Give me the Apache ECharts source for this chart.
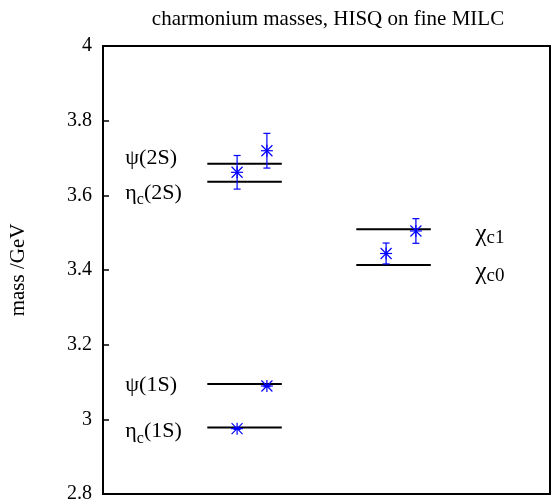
<!DOCTYPE html>
<html><head><meta charset="utf-8">
<script src="https://cdn.jsdelivr.net/npm/echarts@6/dist/echarts.min.js"></script>
<style>html,body{margin:0;padding:0;background:#fff}#c{width:552px;height:504px}</style>
</head><body><div id="c"></div>
<script>
// experimental levels
const states = ['eta_c(1S)', 'psi(1S)', 'eta_c(2S)', 'psi(2S)', 'chi_c0', 'chi_c1'];
const expMass = [2.978, 3.0946, 3.6365, 3.6847, 3.4134, 3.509];
const levelStart = [0.7, 0.7, 0.7, 0.7, 1.7, 1.7];
const levelEnd = [1.2, 1.2, 1.2, 1.2, 2.2, 2.2];
// lattice results
const latX = [0.9, 1.1, 0.9, 1.1, 1.9, 2.1];
const latMass = [2.9751, 3.0893, 3.6617, 3.7195, 3.4442, 3.5045];
const latErr = [0.002, 0.002, 0.045, 0.0465, 0.028, 0.033];
// state labels
const labelText = ['{g|η}{s|c}{g|(1S)}', '{g|ψ(1S)}', '{g|η}{s|c}{g|(2S)}', '{g|ψ(2S)}', '{x|χ}{k|c0}', '{x|χ}{k|c1}'];
const labelX = [0.15, 0.15, 0.15, 0.15, 2.5, 2.5];
const labelY = [2.967, 3.092, 3.606, 3.70, 3.393, 3.494];
const yTickLabels = ['2.8', '3', '3.2', '3.4', '3.6', '3.8', '4'];
const titleText = 'charmonium masses, HISQ on fine MILC';
const yName = 'mass /GeV';

const FONT = '"Liberation Serif", "DejaVu Serif", serif';
const chart = echarts.init(document.getElementById('c'), null, {renderer: 'canvas'});

const levelData = expMass.map((m, i) => [levelStart[i], levelEnd[i], m]);
const latData = latMass.map((m, i) => [latX[i], m, latErr[i]]);
const labelData = labelText.map((t, i) => [labelX[i], labelY[i], i]);

chart.setOption({
  animation: false,
  backgroundColor: '#fff',
  grid: {left: 103, right: 2, top: 46, bottom: 10, show: true, borderColor: '#000', borderWidth: 2, containLabel: false},
  graphic: [{
    type: 'text', x: 328, y: 19,
    style: {text: titleText, font: '21px ' + FONT, fill: '#000', align: 'center', verticalAlign: 'middle'}
  }],
  xAxis: {type: 'value', min: 0, max: 3, show: false},
  yAxis: {
    type: 'value', min: 2.8, max: 4, interval: 0.2,
    name: yName, nameLocation: 'middle', nameRotate: 90, nameGap: 74,
    nameTextStyle: {fontFamily: FONT, fontSize: 21, color: '#000'},
    axisLine: {show: false},
    splitLine: {show: false},
    axisTick: {show: true, inside: true, length: 6, lineStyle: {color: '#000', width: 1.5}},
    axisLabel: {
      margin: 11, fontFamily: FONT, fontSize: 20, color: '#000',
      formatter: function (v) { return yTickLabels[Math.round((v - 2.8) / 0.2)]; }
    }
  },
  series: [
    {
      type: 'custom', data: levelData, clip: false,
      renderItem: function (params, api) {
        const a = api.coord([api.value(0), api.value(2)]);
        const b = api.coord([api.value(1), api.value(2)]);
        return {type: 'line', shape: {x1: a[0], y1: a[1], x2: b[0], y2: b[1]}, style: {stroke: '#000', lineWidth: 2}};
      }
    },
    {
      type: 'custom', data: latData, clip: false,
      renderItem: function (params, api) {
        const x = api.value(0), y = api.value(1), e = api.value(2);
        const c = api.coord([x, y]);
        const t = api.coord([x, y + e]);
        const b = api.coord([x, y - e]);
        const st = {stroke: '#0000ff', lineWidth: 1.2};
        const cap = 3.5, r = 6, d = 5.5;
        const L = (x1, y1, x2, y2) => ({type: 'line', shape: {x1, y1, x2, y2}, style: st});
        return {type: 'group', children: [
          L(c[0], t[1], c[0], b[1]),
          L(c[0] - cap, t[1], c[0] + cap, t[1]),
          L(c[0] - cap, b[1], c[0] + cap, b[1]),
          L(c[0] - r, c[1], c[0] + r, c[1]),
          L(c[0], c[1] - r, c[0], c[1] + r),
          L(c[0] - d, c[1] - d, c[0] + d, c[1] + d),
          L(c[0] - d, c[1] + d, c[0] + d, c[1] - d)
        ]};
      }
    },
    {
      type: 'custom', data: labelData, clip: false,
      renderItem: function (params, api) {
        const p = api.coord([api.value(0), api.value(1)]);
        const i = api.value(2);
        return {type: 'text', x: p[0], y: p[1], style: {
          text: labelText[i], align: 'left', verticalAlign: 'middle', fill: '#000',
          rich: {
            g: {fontFamily: FONT, fontSize: 22, lineHeight: 30, verticalAlign: 'middle', color: '#000'},
            s: {fontFamily: FONT, fontSize: 16, lineHeight: 30, verticalAlign: 'bottom', color: '#000'},
            x: {fontFamily: FONT, fontSize: 25, lineHeight: 30, verticalAlign: 'middle', color: '#000'},
            k: {fontFamily: FONT, fontSize: 19, lineHeight: 30, verticalAlign: 'bottom', color: '#000', padding: [0, 0, 2, 0]}
          }
        }};
      }
    }
  ]
});
</script>
</body></html>
